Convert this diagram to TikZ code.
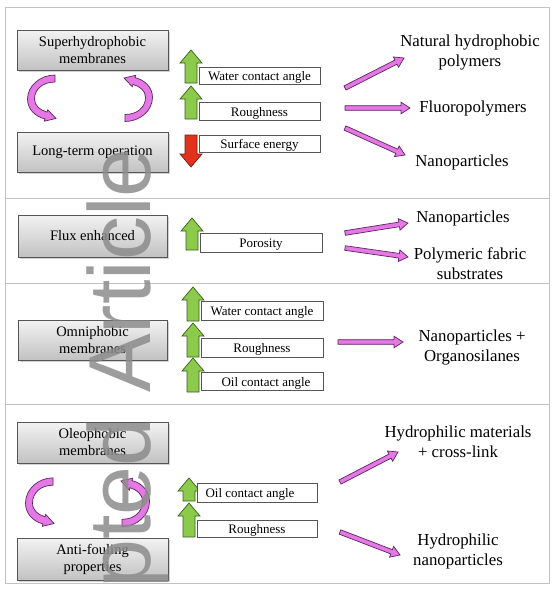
\documentclass[tikz,border=0pt]{standalone}
\usepackage{fontspec}
\setmainfont{Liberation Serif}
\newfontfamily\wmfont{Liberation Sans}
\usetikzlibrary{calc,shadows}
\definecolor{mag}{RGB}{228,120,228}
\definecolor{magline}{RGB}{95,35,100}
\definecolor{grnfill}{RGB}{140,202,75}
\definecolor{grnline}{RGB}{55,95,30}
\definecolor{redfill}{RGB}{225,50,30}
\definecolor{redline}{RGB}{120,25,15}
\definecolor{framecol}{RGB}{195,195,195}
\definecolor{boxline}{RGB}{85,85,85}

\newcommand\greenup[3]{\filldraw[greenarr] (#1-6,#3) -- (#1-6,#2+13) -- (#1-11,#2+13) -- (#1,#2) -- (#1+11,#2+13) -- (#1+6,#2+13) -- (#1+6,#3) -- cycle;}
\newcommand\reddown[3]{\filldraw[redarr] (#1-6,#2) -- (#1-6,#3-13) -- (#1-11,#3-13) -- (#1,#3) -- (#1+11,#3-13) -- (#1+6,#3-13) -- (#1+6,#2) -- cycle;}
\newcommand\marrow[2]{%
  \coordinate (hb) at ($(#2)!9pt!(#1)$);
  \filldraw[magarr] ($(#1)!2.3pt!90:(#2)$) -- ($(hb)!2.3pt!90:(#2)$) -- ($(hb)!5.8pt!90:(#2)$) -- (#2)
    -- ($(hb)!5.8pt!-90:(#2)$) -- ($(hb)!2.3pt!-90:(#2)$) -- ($(#1)!2.3pt!-90:(#2)$) -- cycle;}

\begin{document}
\begin{tikzpicture}[x=1pt,y=-1pt,
  graybox/.style={draw=boxline, top color=gray!10, bottom color=gray!48,
    drop shadow={shadow xshift=1.5pt, shadow yshift=-1.8pt, opacity=0.35},
    align=center, inner sep=0pt, font=\fontsize{14.5}{17}\selectfont},
  smallbox/.style={draw=boxline, fill=white, inner sep=0pt, line width=0.8pt,
    text height=10.5pt, text depth=0.5pt, font=\fontsize{13}{14}\selectfont},
  rtext/.style={align=center, inner sep=0pt, font=\fontsize{16.8}{20}\selectfont},
  greenarr/.style={fill=grnfill, draw=grnline, line width=0.7pt, line join=miter},
  redarr/.style={fill=redfill, draw=redline, line width=0.7pt, line join=miter},
  magarr/.style={fill=mag, draw=magline, line width=0.7pt, line join=miter},
  curvarr/.pic={\filldraw[magarr] (13,-23) .. controls (-2,-23) and (-14.5,-12) .. (-14.5,1)
      .. controls (-14.5,11) and (-7,18.5) .. (3,20.9) -- (2.3,23.2) -- (14,20.5) -- (5.7,11.8) -- (5,14.1)
      .. controls (-2,12) and (-7.5,8) .. (-7.5,1) .. controls (-7.5,-9) and (1,-16) .. (13,-16) -- cycle;}
]
\useasboundingbox (0,0) rectangle (554,589);
\fill[white] (0,0) rectangle (554,589);

% frame and separators
\draw[framecol, line width=1pt] (5,7) rectangle (549,583);
\draw[framecol, line width=1pt] (5,198) -- (549,198);
\draw[framecol, line width=1pt] (5,283) -- (549,283);
\draw[framecol, line width=1pt] (5,404) -- (549,404);

% left gray boxes
\node[graybox, minimum width=151pt, minimum height=40pt] (sh) at (92.5,50) {Superhydrophobic\\membranes};
\node[graybox, minimum width=151pt, minimum height=40pt] (lt) at (92.5,152) {Long-term operation};
\node[graybox, minimum width=149pt, minimum height=42pt] (fe) at (92.5,236) {Flux enhanced};
\node[graybox, minimum width=149pt, minimum height=40pt] (om) at (92.5,340) {Omniphobic\\membranes};
\node[graybox, minimum width=151pt, minimum height=41pt] (ol) at (92.5,442.5) {Oleophobic\\membranes};
\node[graybox, minimum width=151pt, minimum height=42pt] (af) at (92.5,559) {Anti-fouling\\properties};

% curved arrows
\pic at (42,98) {curvarr};
\pic[rotate=180] at (138,98.5) {curvarr};
\pic[yscale=1.05] at (40,502) {curvarr};
\pic[rotate=180, yscale=1.05] at (135,502.5) {curvarr};

% up/down block arrows
\greenup{191}{50}{83}
\greenup{191}{86}{119}
\reddown{191}{135}{167}
\greenup{192}{218}{250}
\greenup{193}{287}{321}
\greenup{193}{323}{357}
\greenup{193}{358}{392}
\greenup{189}{478}{501}
\greenup{189}{503}{537}

% small boxes
\node[smallbox, minimum width=121pt, minimum height=17pt] (w1) at (259.5,75.5) {Water contact angle};
\node[smallbox, minimum width=121pt, minimum height=18pt] (r1) at (259.5,111) {Roughness};
\node[smallbox, minimum width=121pt, minimum height=17pt] (s1) at (259.5,143.5) {Surface energy};
\node[smallbox, minimum width=122pt, minimum height=19pt] (p2) at (261,242.5) {Porosity};
\node[smallbox, minimum width=122pt, minimum height=19pt] (w3) at (262,310.5) {Water contact angle};
\node[smallbox, minimum width=122pt, minimum height=19pt] (r3) at (262,347.5) {Roughness};
\node[smallbox, minimum width=122pt, minimum height=18pt] (o3) at (262,381) {\hspace*{8pt}Oil contact angle};
\node[smallbox, minimum width=120pt, minimum height=19pt] (o4) at (257,492.5) {Oil contact angle\hspace*{14pt}};
\node[smallbox, minimum width=120pt, minimum height=17pt] (r4) at (257,528.5) {Roughness};

% right texts
\node[rtext] (t1) at (470,52) {Natural hydrophobic\\polymers};
\node[rtext] (t2) at (473,108) {Fluoropolymers};
\node[rtext] (t3) at (462,162) {Nanoparticles};
\node[rtext] (t4) at (463,218) {Nanoparticles};
\node[rtext] (t5) at (470,264) {Polymeric fabric\\substrates};
\node[rtext] (t6) at (472,347) {Nanoparticles +\\Organosilanes};
\node[rtext] (t7) at (458,442) {Hydrophilic materials\\+ cross-link};
\node[rtext] (t8) at (458,551) {Hydrophilic\\nanoparticles};

% magenta straight arrows
\coordinate (a1) at (345,88);  \coordinate (b1) at (404,58);
\coordinate (a2) at (345,108); \coordinate (b2) at (410,108);
\coordinate (a3) at (345,128); \coordinate (b3) at (405,155);
\coordinate (a4) at (345,233); \coordinate (b4) at (408,223);
\coordinate (a5) at (345,248); \coordinate (b5) at (408,257);
\coordinate (a6) at (338,342); \coordinate (b6) at (403,342);
\coordinate (a7) at (340,482); \coordinate (b7) at (398,452);
\coordinate (a8) at (340,532); \coordinate (b8) at (400,555);
\marrow{a1}{b1}
\marrow{a2}{b2}
\marrow{a3}{b3}
\marrow{a4}{b4}
\marrow{a5}{b5}
\marrow{a6}{b6}
\marrow{a7}{b7}
\marrow{a8}{b8}

% watermark
\node[rotate=90, anchor=base east, inner sep=0pt, text=black!45, opacity=0.85,
  font=\wmfont\fontsize{88}{88}\selectfont] (wm) at (150,148) {Accepted Article};
\end{tikzpicture}
\end{document}
